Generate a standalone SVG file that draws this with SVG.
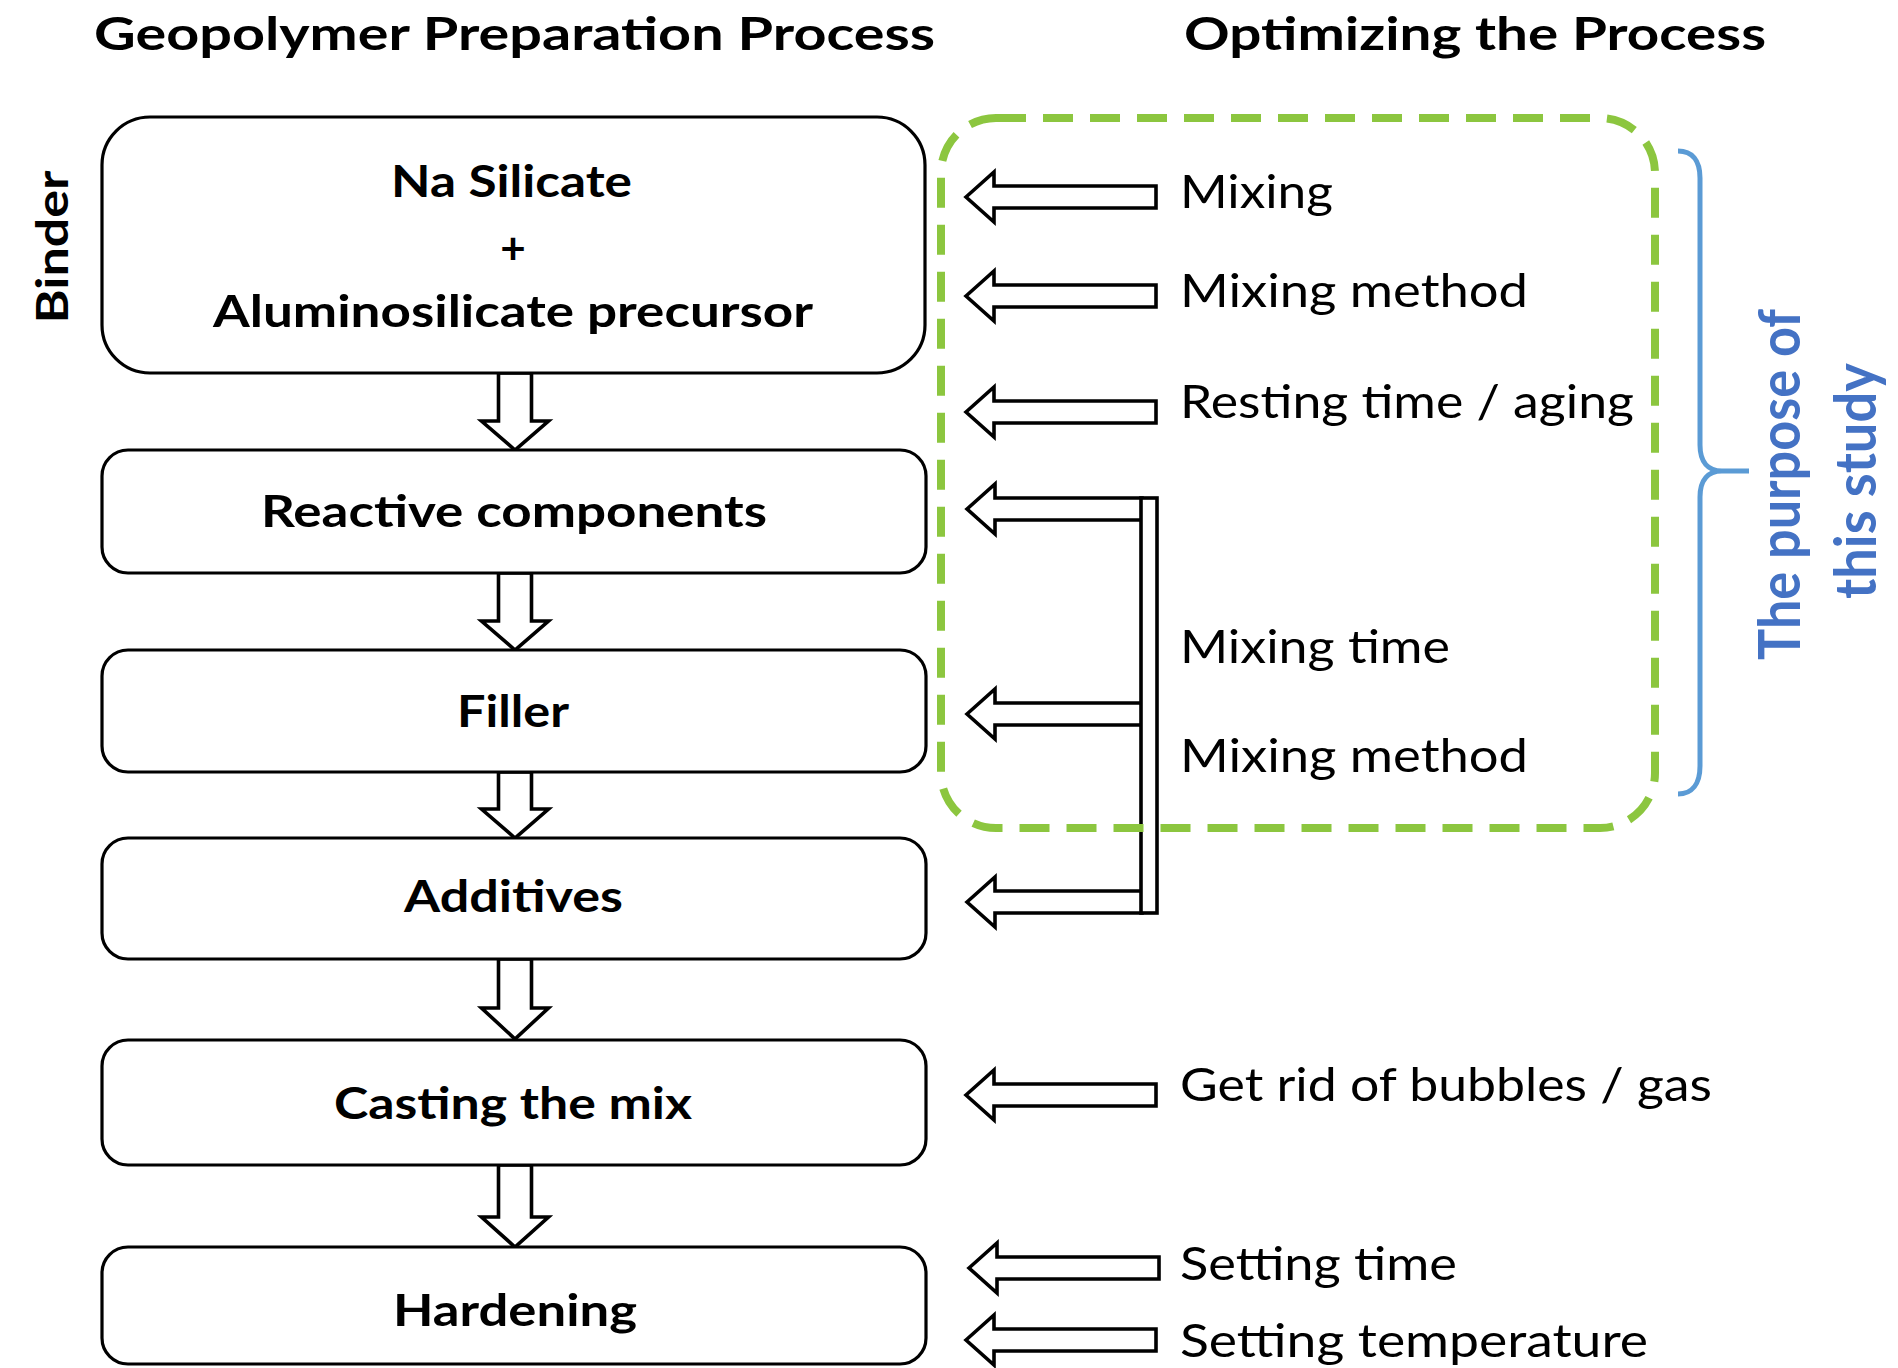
<svg xmlns="http://www.w3.org/2000/svg" xmlns:xlink="http://www.w3.org/1999/xlink" width="1898" height="1368" viewBox="0 0 1898 1368">
<style>
.box{fill:#fff;stroke:#000;stroke-width:3.2}
.bt{font-family:Lato,"Liberation Sans",sans-serif;font-weight:700;font-size:44px;fill:#000;text-anchor:middle}
.rt{font-family:Lato,"Liberation Sans",sans-serif;font-weight:400;font-size:46px;fill:#000}
.tt{font-family:Lato,"Liberation Sans",sans-serif;font-weight:700;font-size:45px;fill:#000}
.blue{font-family:Lato,"Liberation Sans",sans-serif;font-weight:700;font-size:58px;fill:#4472C4;text-anchor:middle}
.arr{fill:#fff;stroke:#000;stroke-width:3.6;stroke-linejoin:miter}
</style>
<defs>
<path id="la" d="M0,0 L28,-25 L28,-11 L190,-11 L190,11 L28,11 L28,25 Z"/>
<path id="lb" d="M0,0 L28,-25 L28,-11 L175,-11 L175,11 L28,11 L28,25 Z"/>
</defs>
<rect width="1898" height="1368" fill="#fff"/>

<g id="titles">
<text class="tt" x="94" y="50" textLength="841" lengthAdjust="spacingAndGlyphs">Geopolymer Preparation Process</text>
<text class="tt" x="1184" y="50" textLength="582" lengthAdjust="spacingAndGlyphs">Optimizing the Process</text>
</g>

<g id="binder-label">
<text class="bt" font-size="60" transform="translate(68,247) rotate(-90)" textLength="153" lengthAdjust="spacingAndGlyphs">Binder</text>
</g>

<g id="connectors">
<polygon class="arr" points="498.5,373 531.5,373 531.5,421 548.5,421 515,450 481.5,421 498.5,421"/>
<polygon class="arr" points="498.5,573 531.5,573 531.5,621 548.5,621 515,650 481.5,621 498.5,621"/>
<polygon class="arr" points="498.5,772 531.5,772 531.5,809 548.5,809 515,838 481.5,809 498.5,809"/>
<polygon class="arr" points="498.5,959 531.5,959 531.5,1008 548.5,1008 515,1039 481.5,1008 498.5,1008"/>
<polygon class="arr" points="498.5,1165 531.5,1165 531.5,1217 548.5,1217 515,1247 481.5,1217 498.5,1217"/>
<use xlink:href="#la" href="#la" class="arr" x="966" y="197"/>
<use xlink:href="#la" href="#la" class="arr" x="966" y="296"/>
<use xlink:href="#la" href="#la" class="arr" x="966" y="412"/>
<use xlink:href="#lb" href="#lb" class="arr" x="967" y="509"/>
<use xlink:href="#lb" href="#lb" class="arr" x="967" y="714"/>
<use xlink:href="#lb" href="#lb" class="arr" x="967" y="902"/>
<rect class="arr" x="1141" y="498" width="16" height="415"/>
<use xlink:href="#la" href="#la" class="arr" x="966" y="1095"/>
<use xlink:href="#la" href="#la" class="arr" x="969" y="1268"/>
<use xlink:href="#la" href="#la" class="arr" x="966" y="1340"/>
</g>

<g id="box1">
<rect class="box" x="102" y="117" width="823" height="256" rx="48"/>
<text class="bt" x="511.5" y="197" textLength="241" lengthAdjust="spacingAndGlyphs">Na Silicate</text>
<text class="bt" x="513" y="264" font-size="54">+</text>
<text class="bt" x="513" y="327" textLength="600" lengthAdjust="spacingAndGlyphs">Aluminosilicate precursor</text>
</g>
<g id="box2">
<rect class="box" x="102" y="450" width="824" height="123" rx="26"/>
<text class="bt" x="514" y="527" textLength="506" lengthAdjust="spacingAndGlyphs">Reactive components</text>
</g>
<g id="box3">
<rect class="box" x="102" y="650" width="824" height="122" rx="26"/>
<text class="bt" x="513" y="727" textLength="112" lengthAdjust="spacingAndGlyphs">Filler</text>
</g>
<g id="box4">
<rect class="box" x="102" y="838" width="824" height="121" rx="26"/>
<text class="bt" x="513.5" y="912" textLength="219" lengthAdjust="spacingAndGlyphs">Additives</text>
</g>
<g id="box5">
<rect class="box" x="102" y="1040" width="824" height="125" rx="26"/>
<text class="bt" x="513" y="1119" textLength="358" lengthAdjust="spacingAndGlyphs">Casting the mix</text>
</g>
<g id="box6">
<rect class="box" x="102" y="1247" width="824" height="117" rx="26"/>
<text class="bt" x="515" y="1326" textLength="244" lengthAdjust="spacingAndGlyphs">Hardening</text>
</g>

<g id="optimizing-labels">
<text class="rt" x="1180" y="208" textLength="153" lengthAdjust="spacingAndGlyphs">Mixing</text>
<text class="rt" x="1180" y="307" textLength="348" lengthAdjust="spacingAndGlyphs">Mixing method</text>
<text class="rt" x="1180" y="418" textLength="454" lengthAdjust="spacingAndGlyphs">Resting time / aging</text>
<text class="rt" x="1180" y="663" textLength="270" lengthAdjust="spacingAndGlyphs">Mixing time</text>
<text class="rt" x="1180" y="772" textLength="348" lengthAdjust="spacingAndGlyphs">Mixing method</text>
<text class="rt" x="1180" y="1101" textLength="532" lengthAdjust="spacingAndGlyphs">Get rid of bubbles / gas</text>
<text class="rt" x="1180" y="1280" textLength="277" lengthAdjust="spacingAndGlyphs">Setting time</text>
<text class="rt" x="1180" y="1357" textLength="468" lengthAdjust="spacingAndGlyphs">Setting temperature</text>
</g>

<g id="study-scope">
<rect x="941" y="118" width="714" height="710" rx="55" fill="none" stroke="#8CC63F" stroke-width="8" stroke-dasharray="30 17"/>
<path d="M1678,151 C1692,151 1700,160 1700,178 L1700,445 C1700,462 1708,471 1722,471 L1749,471 M1722,471 C1708,471 1700,480 1700,497 L1700,766 C1700,784 1692,794 1678,794" fill="none" stroke="#5B9BD5" stroke-width="5"/>
<text class="blue" transform="translate(1800,484.5) rotate(-90)" textLength="351" lengthAdjust="spacingAndGlyphs">The purpose of</text>
<text class="blue" transform="translate(1876,481) rotate(-90)" textLength="236" lengthAdjust="spacingAndGlyphs">this study</text>
</g>
</svg>
